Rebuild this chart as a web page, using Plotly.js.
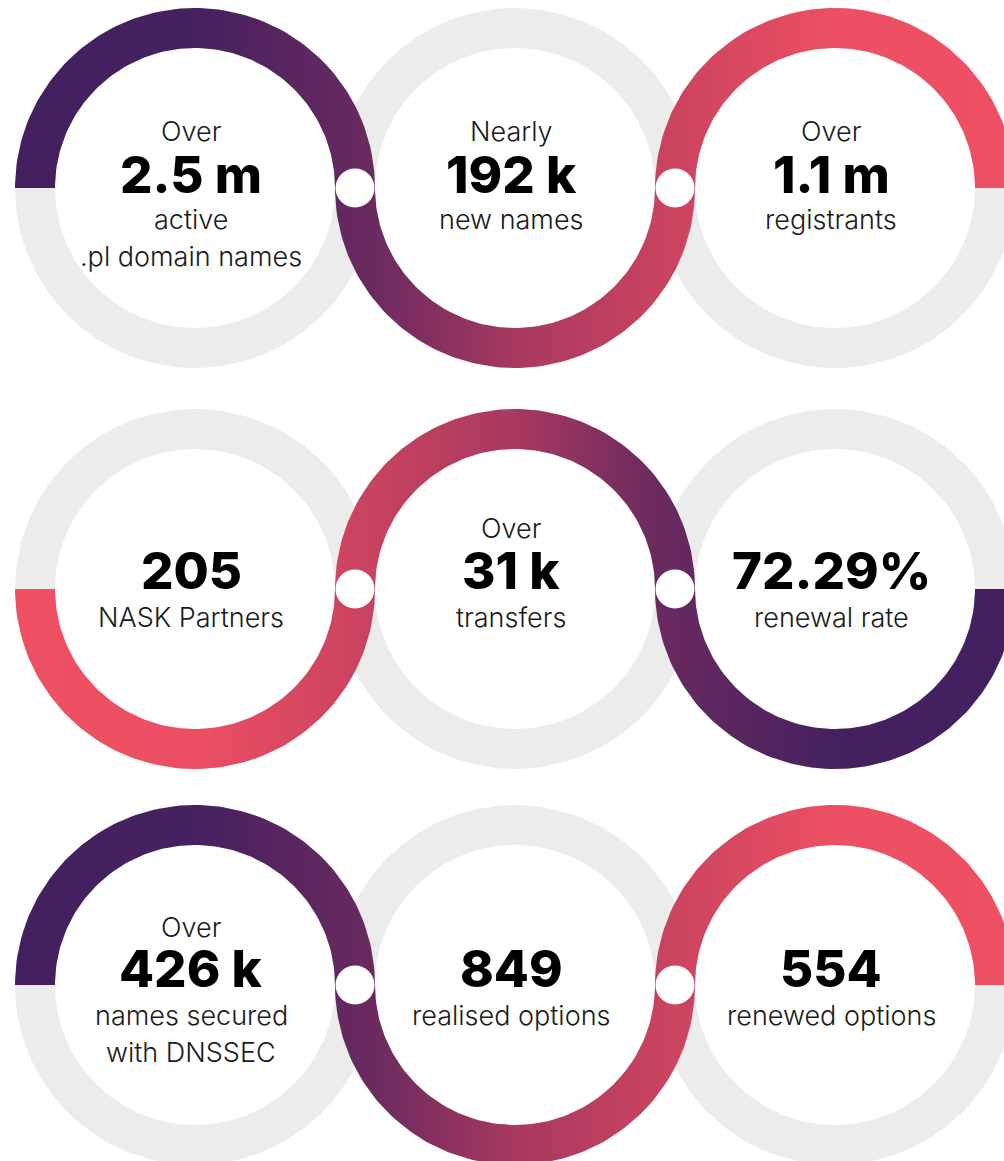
<!DOCTYPE html>
<html>
<head>
<meta charset="utf-8">
<script src="https://cdn.plot.ly/plotly-3.0.1.min.js"></script>
<style>html,body{margin:0;padding:0;background:#fff;}#chart{width:1004px;height:1161px;}</style>
</head>
<body>
<div id="chart"></div>
<script>
// ---- data ----
const prefixes = ["Over", "Nearly", "Over", "", "Over", "", "Over", "", ""];
const values = ["2.5 m", "192 k", "1.1 m", "205", "31 k", "72.29%", "426 k", "849", "554"];
const labels = [
  ["active", ".pl domain names"],
  ["new names"],
  ["registrants"],
  ["NASK Partners"],
  ["transfers"],
  ["renewal rate"],
  ["names secured", "with DNSSEC"],
  ["realised options"],
  ["renewed options"]
];
// which half of each ring is coloured: 1 = top, -1 = bottom
const colouredHalf = [1, -1, 1, -1, 1, -1, 1, -1, 1];
// gradient direction per row: 1 = purple->red left to right, -1 = reversed
const rowGradient = [1, -1, 1];

// ---- layout geometry ----
const W = 1004, H = 1161;
const colX = [195, 515, 835];
const rowY = [188, 589, 985];
const R = 180, r = 140;
const textDX = -4;
const rowOffsets = [[-57, -14, 31, 68], [-61, -19, 28, 65], [-58, -17, 30, 67]];
const GRAY = "#ececec";

const stopsFwd = [
  [0.00, "#42205f"], [0.18, "#45215f"], [0.36, "#6b2a5f"], [0.50, "#a8395f"],
  [0.68, "#d04560"], [0.82, "#ec4f63"], [1.00, "#ef5063"]
];
const stopsRev = stopsFwd.map(s => [+(1 - s[0]).toFixed(4), s[1]]).reverse();

function halfRing(cx, cy, side) {
  const xs = [], ys = [];
  const n = 120;
  for (let i = 0; i <= n; i++) {
    const t = Math.PI * i / n;
    xs.push(cx + R * Math.cos(t));
    ys.push(cy - side * R * Math.sin(t));
  }
  for (let i = n; i >= 0; i--) {
    const t = Math.PI * i / n;
    xs.push(cx + r * Math.cos(t));
    ys.push(cy - side * r * Math.sin(t));
  }
  xs.push(xs[0]); ys.push(ys[0]);
  return {xs, ys};
}

const traces = [];
// gray rings
for (let row = 0; row < 3; row++) {
  for (let col = 0; col < 3; col++) {
    for (const side of [1, -1]) {
      const p = halfRing(colX[col], rowY[row], side);
      traces.push({type: "scatter", mode: "lines", x: p.xs, y: p.ys, fill: "toself",
        fillcolor: GRAY, line: {width: 0, color: GRAY}, hoverinfo: "skip", showlegend: false});
    }
  }
}
// coloured halves
for (let row = 0; row < 3; row++) {
  for (let col = 0; col < 3; col++) {
    const idx = row * 3 + col;
    const p = halfRing(colX[col], rowY[row], colouredHalf[idx]);
    traces.push({type: "scatter", mode: "lines", x: p.xs, y: p.ys, fill: "toself",
      fillgradient: {type: "horizontal", colorscale: rowGradient[row] === 1 ? stopsFwd : stopsRev,
        start: colX[0] - R, stop: colX[2] + R},
      line: {width: 0, color: "rgba(0,0,0,0)"}, hoverinfo: "skip", showlegend: false});
  }
}

// white junction dots
const shapes = [];
for (let row = 0; row < 3; row++) {
  for (let j = 0; j < 2; j++) {
    const y = rowY[row];
    const jx = colX[j] + (R + r) / 2;
    shapes.push({type: "circle", layer: "above", xref: "x", yref: "y",
      x0: jx - 19.5, x1: jx + 19.5, y0: y - 19.5, y1: y + 19.5,
      fillcolor: "#ffffff", line: {width: 0}});
  }
}

const LIGHT = {family: "Inter, 'Open Sans', sans-serif", size: 27, weight: 300, color: "#1a1a1a"};
const BOLD = {family: "Inter, 'DejaVu Sans', sans-serif", size: 51, weight: 800, color: "#000000"};
const annotations = [];
for (let row = 0; row < 3; row++) {
  for (let col = 0; col < 3; col++) {
    const idx = row * 3 + col;
    const cx = colX[col] + textDX, cy = rowY[row];
    const off = rowOffsets[row];
    if (prefixes[idx]) annotations.push({x: cx, y: cy + off[0], text: prefixes[idx], showarrow: false, font: LIGHT, xanchor: "center", yanchor: "middle"});
    annotations.push({x: cx, y: cy + off[1], text: values[idx], showarrow: false, font: BOLD, xanchor: "center", yanchor: "middle", height: 46, valign: "middle"});
    labels[idx].forEach((t, k) => annotations.push({x: cx, y: cy + off[2 + k], text: t, showarrow: false, font: LIGHT, xanchor: "center", yanchor: "middle"}));
  }
}

const layout = {
  width: W, height: H, margin: {l: 0, r: 0, t: 0, b: 0, pad: 0},
  paper_bgcolor: "#ffffff", plot_bgcolor: "#ffffff",
  xaxis: {range: [0, W], visible: false, fixedrange: true},
  yaxis: {range: [H, 0], visible: false, fixedrange: true},
  showlegend: false, shapes, annotations
};
Plotly.newPlot("chart", traces, layout, {displayModeBar: false, staticPlot: true});
</script>
</body>
</html>
